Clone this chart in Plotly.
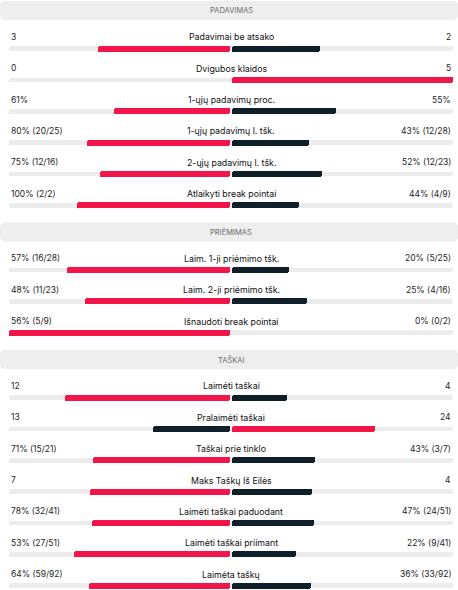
import plotly.graph_objects as go

# ---- data ----
sections = ["PADAVIMAS", "PRIĖMIMAS", "TAŠKAI"]
section_sizes = [6, 3, 7]
labels = [
    "Padavimai be atsako", "Dvigubos klaidos", "1-ųjų padavimų proc.",
    "1-ųjų padavimų l. tšk.", "2-ųjų padavimų l. tšk.", "Atlaikyti break pointai",
    "Laim. 1-ji priėmimo tšk.", "Laim. 2-ji priėmimo tšk.", "Išnaudoti break pointai",
    "Laimėti taškai", "Pralaimėti taškai", "Taškai prie tinklo", "Maks Taškų Iš Eilės",
    "Laimėti taškai paduodant", "Laimėti taškai priimant", "Laimėta taškų",
]
left_vals = [3, 0, 61, 80, 75, 100, 57, 48, 56, 12, 13, 71, 7, 78, 53, 64]
right_vals = [2, 5, 55, 43, 52, 44, 20, 25, 0, 4, 24, 43, 4, 47, 22, 36]
left_text = ["3", "0", "61%", "80% (20/25)", "75% (12/16)", "100% (2/2)",
             "57% (16/28)", "48% (11/23)", "56% (5/9)", "12", "13", "71% (15/21)",
             "7", "78% (32/41)", "53% (27/51)", "64% (59/92)"]
right_text = ["2", "5", "55%", "43% (12/28)", "52% (12/23)", "44% (4/9)",
              "20% (5/25)", "25% (4/16)", "0% (0/2)", "4", "24", "43% (3/7)",
              "4", "47% (24/51)", "22% (9/41)", "36% (33/92)"]

# ---- style / layout ----
W, H = 458, 590
RED = "#f3154a"
DARK = "#0e1f2a"
TRACK = "#ececec"
HEAD_BG = "#eeeeee"
GAP = 0.0045
ML, MR = 9, 5
FONT = "Inter, Roboto, 'Noto Sans', sans-serif"

# compute vertical positions (pixels from top)
row_y = []
head_y = []
y = 1.0
for s, n in zip(sections, section_sizes):
    head_y.append(y)
    first = y + 47.5
    for k in range(n):
        row_y.append(first + k * 31.35)
    y = row_y[-1] + 17.3

fig = go.Figure()

# tracks
fig.add_trace(go.Bar(
    y=row_y, x=[2] * len(row_y), base=[-1] * len(row_y), orientation="h",
    width=4.6, marker=dict(color=TRACK, cornerradius=2, line=dict(width=0)),
    hoverinfo="skip", showlegend=False))

lshare = [l / (l + r) if (l + r) else 0 for l, r in zip(left_vals, right_vals)]
rshare = [r / (l + r) if (l + r) else 0 for l, r in zip(left_vals, right_vals)]
lcol = [RED if l > r else DARK for l, r in zip(left_vals, right_vals)]
rcol = [RED if r > l else DARK for l, r in zip(left_vals, right_vals)]

fig.add_trace(go.Bar(
    y=row_y, x=[max(s - GAP, 0) for s in lshare], base=[-s for s in lshare],
    orientation="h", width=6,
    marker=dict(color=lcol, cornerradius=2, line=dict(width=0)),
    hoverinfo="skip", showlegend=False))
fig.add_trace(go.Bar(
    y=row_y, x=[max(s - GAP, 0) for s in rshare], base=[GAP] * len(rshare),
    orientation="h", width=6,
    marker=dict(color=rcol, cornerradius=2, line=dict(width=0)),
    hoverinfo="skip", showlegend=False))

shapes = []
annotations = []
pw = W - ML - MR


def px2paper(px, py):
    return (px - ML) / pw, 1 - py / H


def rounded_rect(x0, y0, x1, y1, r):
    pts = []
    P = lambda a, b: "%.6f,%.6f" % px2paper(a, b)
    path = "M " + P(x0 + r, y0)
    path += " L " + P(x1 - r, y0)
    path += " Q " + P(x1, y0) + " " + P(x1, y0 + r)
    path += " L " + P(x1, y1 - r)
    path += " Q " + P(x1, y1) + " " + P(x1 - r, y1)
    path += " L " + P(x0 + r, y1)
    path += " Q " + P(x0, y1) + " " + P(x0, y1 - r)
    path += " L " + P(x0, y0 + r)
    path += " Q " + P(x0, y0) + " " + P(x0 + r, y0) + " Z"
    return path


for s, hy in zip(sections, head_y):
    shapes.append(dict(type="path", xref="paper", yref="paper",
                       path=rounded_rect(0, hy, W, hy + 19, 5),
                       fillcolor=HEAD_BG, line=dict(width=0), layer="below"))
    annotations.append(dict(text=s, xref="x", yref="y", x=0, y=hy + 9.8,
                            showarrow=False, xanchor="center", yanchor="middle",
                            font=dict(family=FONT, size=7.5, color="#6a6a6a")))

for i, yy in enumerate(row_y):
    ty = yy - 11.6
    annotations.append(dict(text=left_text[i], xref="paper", yref="y", x=0, y=ty,
                            showarrow=False, xanchor="left", yanchor="middle",
                            font=dict(family=FONT, size=8.5, color="#1e1e1e")))
    annotations.append(dict(text=right_text[i], xref="paper", yref="y", x=1, y=ty,
                            showarrow=False, xanchor="right", yanchor="middle",
                            font=dict(family=FONT, size=8.5, color="#1e1e1e")))
    annotations.append(dict(text=labels[i], xref="x", yref="y", x=0, y=ty,
                            showarrow=False, xanchor="center", yanchor="middle",
                            font=dict(family=FONT, size=8.8, color="#111111")))

fig.update_layout(
    width=W, height=H,
    margin=dict(l=ML, r=MR, t=0, b=0),
    paper_bgcolor="white", plot_bgcolor="white",
    barmode="overlay", bargap=0,
    xaxis=dict(range=[-1, 1], visible=False, fixedrange=True),
    yaxis=dict(range=[H, 0], visible=False, fixedrange=True),
    shapes=shapes, annotations=annotations,
    showlegend=False,
)

fig.write_html("out.html", config={"displayModeBar": False},
               post_script="document.body.style.margin='0';document.body.style.overflow='hidden';")
